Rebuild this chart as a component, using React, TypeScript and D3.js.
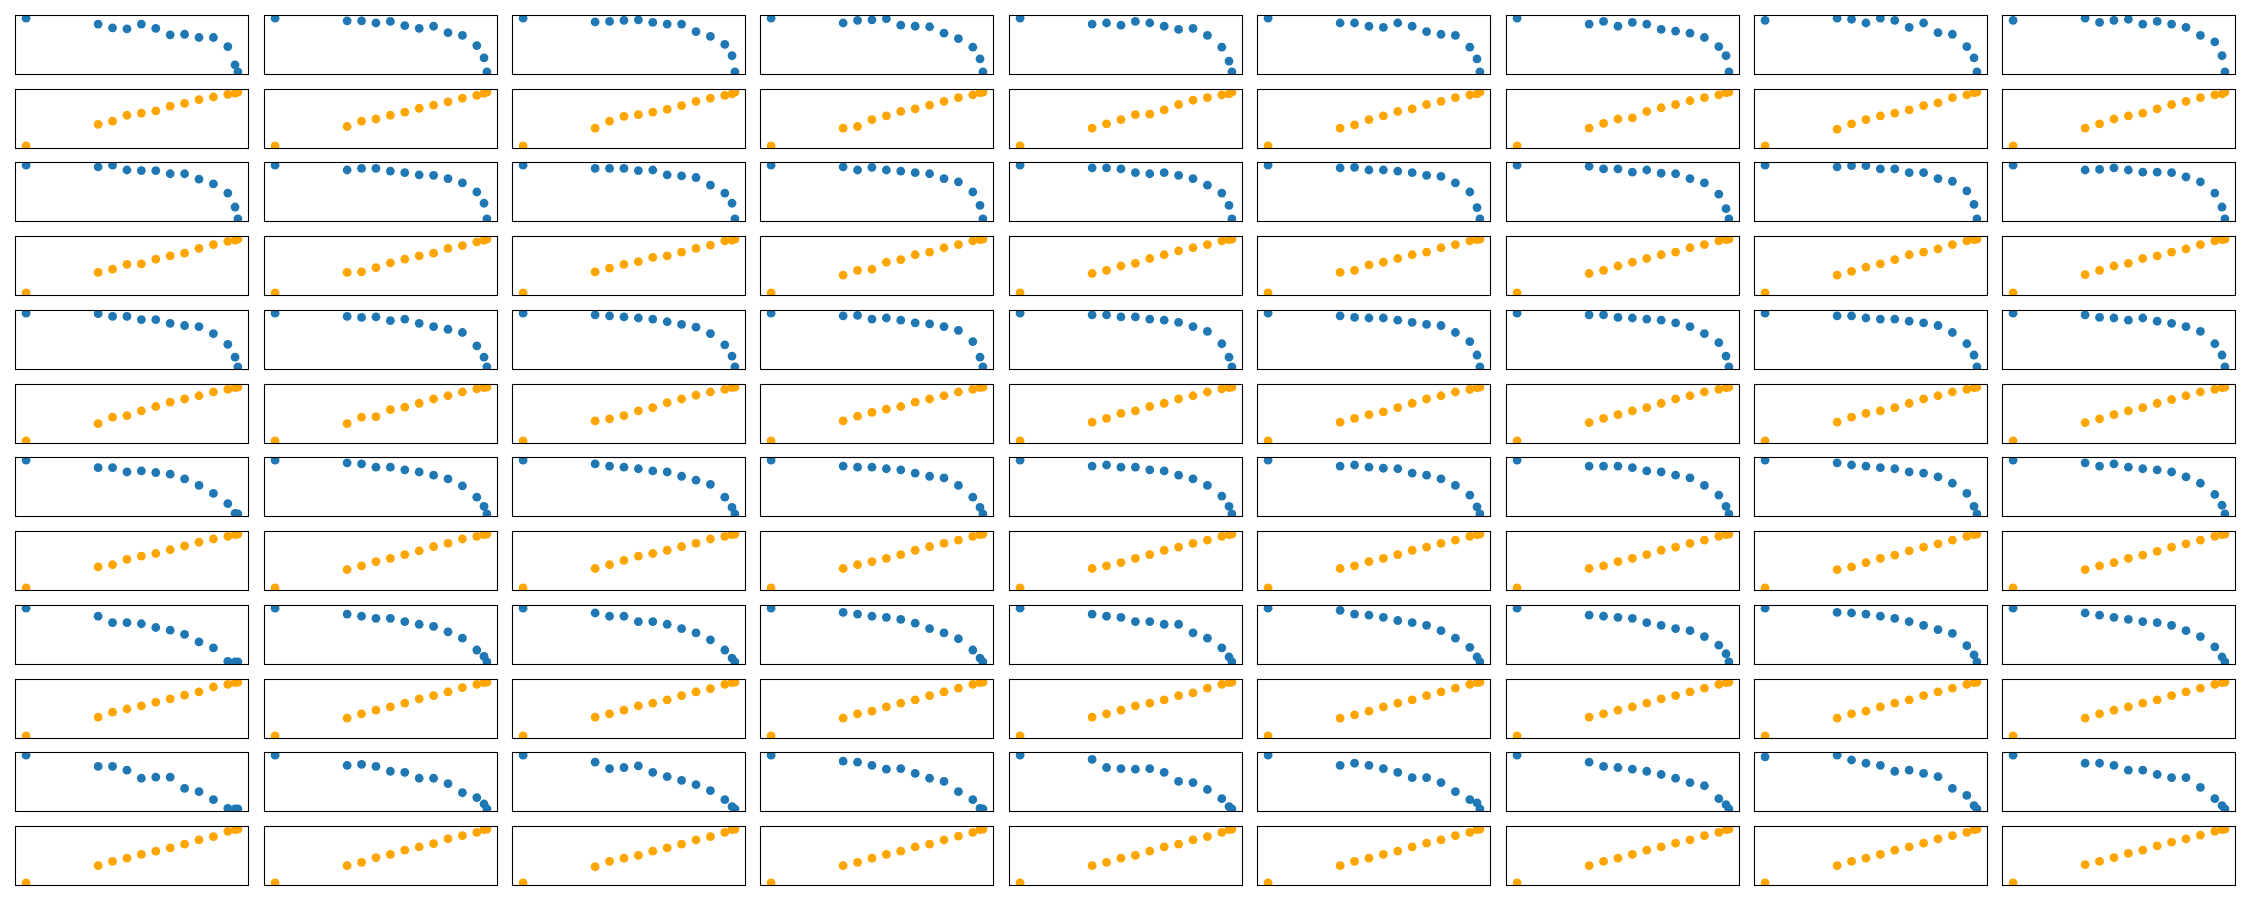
import * as d3 from "d3";

// shared x positions for every panel
const xValues = [0, 5, 6, 7, 8, 9, 10, 11, 12, 13, 14, 14.5, 14.7];

// blue rows (decreasing), one array per column
const blueRow1 = [
  [100, 89, 82, 80, 89, 81, 69, 70, 64, 64, 47, 13, 0],
  [100, 95, 95, 91, 94, 86, 81, 85, 73, 68, 49, 26, 0],
  [100, 93, 94, 96, 97, 92, 89, 89, 75, 66, 51, 30, 0],
  [100, 91, 96, 97, 99, 87, 85, 84, 72, 62, 46, 24, 0],
  [100, 89, 91, 87, 94, 91, 85, 79, 81, 68, 46, 20, 0],
  [100, 91, 91, 85, 83, 91, 85, 75, 70, 68, 46, 24, 0],
  [100, 89, 94, 85, 92, 89, 79, 76, 72, 64, 47, 30, 0],
  [96, 100, 98, 91, 100, 96, 83, 91, 73, 70, 47, 26, 0],
  [96, 100, 92, 96, 98, 89, 94, 89, 83, 68, 56, 30, 0],
];
const blueRow2 = [
  [100, 97, 100, 91, 90, 90, 84, 84, 74, 65, 48, 22, 0],
  [100, 91, 94, 94, 89, 86, 82, 81, 75, 67, 50, 29, 0],
  [100, 94, 94, 94, 90, 91, 82, 80, 77, 63, 48, 29, 0],
  [100, 97, 91, 96, 91, 89, 86, 84, 75, 69, 50, 25, 0],
  [100, 95, 95, 93, 86, 84, 86, 81, 75, 63, 48, 25, 0],
  [100, 95, 96, 91, 91, 89, 86, 81, 79, 67, 50, 21, 0],
  [100, 98, 93, 93, 87, 91, 85, 84, 75, 67, 46, 19, 0],
  [100, 97, 99, 99, 93, 93, 86, 86, 75, 70, 52, 27, 0],
  [100, 91, 92, 95, 91, 87, 87, 86, 78, 69, 48, 22, 0],
];
const blueRow3 = [
  [100, 99, 94, 94, 88, 88, 81, 77, 75, 62, 42, 18, 0],
  [100, 94, 92, 93, 86, 89, 81, 75, 70, 64, 39, 18, 0],
  [100, 97, 95, 93, 91, 89, 84, 79, 74, 62, 41, 20, 0],
  [100, 95, 96, 89, 91, 87, 82, 80, 75, 68, 47, 18, 0],
  [100, 97, 97, 93, 93, 89, 87, 83, 75, 66, 43, 18, 0],
  [100, 95, 92, 91, 91, 87, 83, 79, 77, 64, 47, 22, 0],
  [100, 97, 97, 92, 91, 89, 87, 82, 75, 62, 45, 20, 0],
  [100, 95, 95, 91, 89, 89, 85, 82, 77, 64, 43, 22, 0],
  [100, 97, 92, 91, 87, 91, 85, 81, 75, 66, 43, 22, 0],
];
const blueRow4 = [
  [100, 86, 86, 78, 80, 77, 74, 65, 53, 38, 19, 1, 0],
  [100, 95, 93, 87, 87, 82, 78, 72, 65, 52, 31, 14, 0],
  [100, 93, 89, 87, 84, 80, 78, 70, 63, 55, 31, 12, 0],
  [100, 89, 87, 87, 84, 82, 76, 70, 67, 53, 31, 12, 0],
  [100, 89, 91, 87, 87, 82, 80, 72, 65, 53, 33, 14, 0],
  [100, 89, 91, 87, 85, 84, 76, 72, 65, 53, 35, 13, 0],
  [100, 89, 89, 89, 86, 80, 78, 72, 67, 53, 35, 14, 0],
  [100, 95, 91, 89, 86, 84, 78, 76, 69, 57, 38, 14, 0],
  [100, 95, 89, 93, 87, 84, 82, 78, 69, 57, 36, 16, 0],
];
const blueRow5 = [
  [100, 85, 73, 73, 71, 64, 59, 51, 37, 26, 1, 0, 0],
  [100, 89, 85, 81, 81, 75, 70, 66, 56, 44, 22, 10, 0],
  [100, 91, 85, 85, 75, 75, 70, 62, 54, 41, 22, 7, 0],
  [100, 92, 89, 85, 83, 79, 72, 62, 54, 43, 22, 7, 0],
  [100, 89, 85, 83, 75, 75, 70, 70, 54, 44, 26, 9, 0],
  [100, 96, 89, 87, 83, 77, 73, 68, 58, 44, 27, 9, 0],
  [100, 87, 85, 83, 81, 73, 68, 62, 58, 47, 31, 15, 0],
  [100, 92, 91, 89, 85, 81, 75, 68, 60, 53, 30, 13, 0],
  [100, 91, 87, 83, 79, 75, 73, 68, 58, 47, 28, 9, 0],
];
const blueRow6 = [
  [100, 79, 79, 72, 57, 59, 59, 38, 32, 17, 1, 0, 0],
  [100, 81, 83, 79, 70, 68, 57, 57, 47, 30, 21, 9, 0],
  [100, 87, 75, 77, 80, 68, 60, 53, 45, 34, 17, 4, 0],
  [100, 89, 87, 81, 74, 75, 66, 57, 51, 32, 17, 1, 0],
  [100, 92, 77, 75, 74, 75, 68, 51, 49, 36, 19, 4, 0],
  [100, 81, 85, 81, 75, 68, 58, 58, 49, 32, 17, 11, 0],
  [100, 87, 79, 77, 74, 70, 64, 57, 49, 43, 19, 8, 0],
  [97, 100, 91, 85, 81, 70, 72, 66, 60, 38, 25, 6, 0],
  [100, 85, 85, 81, 72, 72, 64, 58, 58, 40, 19, 6, 0],
];

// orange rows (increasing)
const orangeRow1 = [
  [0, 40, 46, 57, 61, 65, 74, 79, 86, 91, 96, 98, 100],
  [0, 36, 46, 50, 57, 63, 70, 76, 82, 89, 94, 98, 100],
  [0, 33, 46, 55, 58, 63, 68, 75, 83, 89, 94, 97, 100],
  [0, 33, 36, 49, 56, 64, 69, 76, 83, 90, 95, 99, 100],
  [0, 33, 41, 49, 58, 59, 67, 77, 85, 90, 95, 97, 100],
  [0, 33, 39, 49, 56, 64, 69, 77, 83, 90, 95, 97, 100],
  [0, 33, 42, 50, 52, 64, 71, 77, 84, 90, 95, 99, 100],
  [0, 31, 41, 49, 56, 61, 67, 75, 80, 90, 95, 99, 100],
  [0, 33, 41, 50, 56, 61, 69, 77, 83, 90, 95, 97, 100],
];
const orangeRow2 = [
  [0, 38, 44, 53, 54, 63, 69, 74, 83, 90, 96, 98, 100],
  [0, 38, 39, 47, 56, 63, 69, 74, 83, 88, 95, 98, 100],
  [0, 39, 46, 53, 58, 66, 69, 76, 83, 89, 97, 98, 100],
  [0, 33, 42, 44, 57, 62, 71, 76, 84, 90, 97, 99, 100],
  [0, 36, 42, 50, 55, 64, 71, 78, 84, 90, 97, 99, 100],
  [0, 38, 42, 52, 57, 64, 71, 76, 84, 90, 97, 99, 100],
  [0, 36, 42, 50, 57, 64, 71, 76, 84, 90, 97, 99, 100],
  [0, 33, 40, 48, 54, 62, 71, 76, 82, 90, 97, 99, 100],
  [0, 34, 42, 50, 55, 64, 69, 76, 82, 90, 97, 99, 100],
];
const orangeRow3 = [
  [0, 32, 44, 47, 56, 64, 72, 78, 84, 91, 96, 99, 100],
  [0, 32, 44, 45, 58, 63, 70, 78, 84, 91, 97, 99, 100],
  [0, 37, 41, 47, 56, 62, 71, 78, 85, 91, 96, 99, 100],
  [0, 37, 46, 53, 59, 64, 72, 78, 84, 91, 96, 99, 100],
  [0, 35, 42, 51, 56, 64, 70, 78, 84, 91, 97, 99, 100],
  [0, 35, 42, 49, 54, 62, 70, 78, 84, 91, 96, 99, 100],
  [0, 34, 42, 49, 56, 62, 70, 78, 84, 91, 96, 99, 100],
  [0, 35, 44, 51, 56, 62, 70, 78, 84, 91, 96, 99, 100],
  [0, 34, 41, 49, 56, 62, 70, 77, 84, 91, 96, 99, 100],
];
const orangeRow4 = [
  [0, 39, 43, 53, 59, 64, 71, 78, 85, 91, 96, 99, 100],
  [0, 34, 41, 49, 55, 62, 69, 77, 83, 91, 96, 99, 100],
  [0, 36, 43, 51, 59, 64, 70, 77, 83, 91, 96, 99, 100],
  [0, 36, 43, 49, 55, 62, 70, 77, 83, 89, 96, 99, 100],
  [0, 36, 41, 47, 55, 62, 70, 76, 83, 89, 96, 99, 100],
  [0, 36, 41, 49, 55, 62, 70, 76, 83, 89, 96, 99, 100],
  [0, 36, 41, 49, 55, 62, 70, 76, 83, 89, 96, 99, 100],
  [0, 34, 39, 47, 55, 61, 69, 76, 82, 89, 96, 99, 100],
  [0, 34, 41, 47, 55, 61, 68, 76, 82, 89, 96, 99, 100],
];
const orangeRow5 = [
  [0, 35, 44, 50, 56, 63, 69, 76, 82, 91, 96, 99, 100],
  [0, 33, 41, 48, 54, 61, 69, 75, 82, 90, 96, 99, 100],
  [0, 35, 41, 48, 56, 61, 67, 75, 82, 88, 96, 99, 100],
  [0, 33, 41, 46, 54, 61, 67, 75, 82, 89, 96, 99, 100],
  [0, 35, 41, 48, 56, 61, 67, 75, 80, 89, 96, 99, 100],
  [0, 33, 39, 46, 54, 61, 67, 75, 82, 89, 96, 99, 100],
  [0, 35, 41, 48, 54, 61, 69, 75, 82, 89, 96, 99, 100],
  [0, 33, 41, 46, 54, 61, 67, 75, 82, 89, 96, 99, 100],
  [0, 33, 41, 48, 54, 61, 67, 75, 82, 89, 96, 99, 100],
];
const orangeRow6 = [
  [0, 32, 40, 46, 53, 59, 65, 72, 80, 86, 96, 99, 100],
  [0, 32, 38, 47, 53, 61, 67, 73, 82, 88, 94, 99, 100],
  [0, 30, 40, 46, 51, 59, 65, 72, 80, 86, 94, 99, 100],
  [0, 32, 38, 46, 53, 59, 67, 72, 80, 87, 94, 99, 100],
  [0, 32, 38, 46, 51, 59, 67, 72, 80, 86, 94, 99, 100],
  [0, 32, 40, 46, 53, 59, 67, 74, 80, 88, 94, 99, 100],
  [0, 32, 40, 46, 53, 61, 67, 74, 80, 88, 94, 99, 100],
  [0, 32, 40, 46, 53, 61, 67, 74, 82, 88, 94, 99, 100],
  [0, 34, 40, 47, 55, 61, 69, 76, 82, 89, 96, 99, 100],
];

const BLUE = "#1f77b4";
const ORANGE = "#ffa500";

// grid rows alternate blue / orange
const gridRows = [
  { color: BLUE, panels: blueRow1 },
  { color: ORANGE, panels: orangeRow1 },
  { color: BLUE, panels: blueRow2 },
  { color: ORANGE, panels: orangeRow2 },
  { color: BLUE, panels: blueRow3 },
  { color: ORANGE, panels: orangeRow3 },
  { color: BLUE, panels: blueRow4 },
  { color: ORANGE, panels: orangeRow4 },
  { color: BLUE, panels: blueRow5 },
  { color: ORANGE, panels: orangeRow5 },
  { color: BLUE, panels: blueRow6 },
  { color: ORANGE, panels: orangeRow6 },
];

// matplotlib-style autoscale with 5% margins
const padded = (vals: number[]): [number, number] => {
  const [lo, hi] = d3.extent(vals) as [number, number];
  const m = (hi - lo) * 0.05;
  return [lo - m, hi + m];
};

const width = 2250;
const height = 900;

const App = () => {
  const cols = d3
    .scaleBand<number>()
    .domain(d3.range(9))
    .range([15.3, 2235.3])
    .paddingInner(0.062);
  const rows = d3
    .scaleBand<number>()
    .domain(d3.range(gridRows.length))
    .range([15, 885])
    .paddingInner(0.2);

  const w = Math.round(cols.bandwidth());
  const h = Math.round(rows.bandwidth());
  const x = d3.scaleLinear().domain(padded(xValues)).range([0, w]);

  return (
    <svg
      width={width}
      height={height}
      style={{ position: "absolute", left: 0, top: 0, background: "#fff" }}
    >
      {gridRows.map((row, ri) =>
        row.panels.map((vals, ci) => {
          const y = d3.scaleLinear().domain(padded(vals)).range([h, 0]);
          const id = `clip-${ri}-${ci}`;
          const left = Math.round(cols(ci) as number) + 0.5;
          const top = Math.round(rows(ri) as number) + 0.5;
          return (
            <g key={id} transform={`translate(${left},${top})`}>
              <clipPath id={id}>
                <rect width={w} height={h} />
              </clipPath>
              <g clipPath={`url(#${id})`}>
                {vals.map((v, i) => (
                  <circle key={i} cx={x(xValues[i])} cy={y(v)} r={4.4} fill={row.color} />
                ))}
              </g>
              <rect width={w} height={h} fill="none" stroke="#000" strokeWidth={1.1} />
            </g>
          );
        })
      )}
    </svg>
  );
};

export default App;
